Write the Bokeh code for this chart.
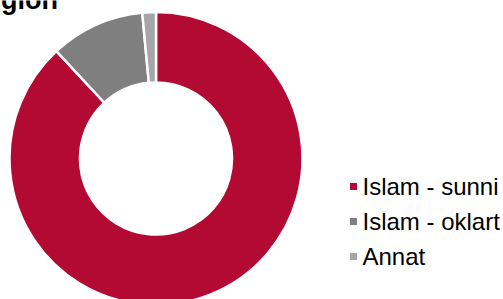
import numpy as np
from bokeh.plotting import figure
from bokeh.models import Range1d, ColumnDataSource
from bokeh.embed import file_html
from bokeh.resources import INLINE
from bokeh.core.properties import value

# ---- data ----
categories = ["Islam - sunni", "Islam - oklart", "Annat"]
shares = [88.1, 10.4, 1.5]
colors = ["#B20A33", "#7F7F7F", "#A6A6A6"]
title_text = "Religion"

W, H = 503, 299
p = figure(width=W, height=H, output_backend="svg", toolbar_location=None,
           x_range=Range1d(0, W), y_range=Range1d(0, H), min_border=0)
p.axis.visible = False
p.xgrid.visible = False
p.ygrid.visible = False
p.outline_line_color = None
p.background_fill_color = "white"
p.border_fill_color = "white"

total = float(sum(shares))
cum = np.concatenate([[0.0], np.cumsum(shares)]) / total * 2 * np.pi
src = ColumnDataSource(dict(
    start=np.pi / 2 - cum[:-1],
    end=np.pi / 2 - cum[1:],
    color=colors,
    cat=categories,
))
cx, cy = 155.5, H - 158
p.annular_wedge(x=cx, y=cy, inner_radius=76, outer_radius=146.5,
                start_angle="start", end_angle="end", direction="clock",
                fill_color="color", line_color="white", line_width=2.5,
                source=src)

# legend
ly = [H - 186, H - 221, H - 256]
leg = ColumnDataSource(dict(y=ly, color=colors, cat=categories))
p.scatter(x=353, y="y", marker="square", size=7, fill_color="color",
          line_color=None, source=leg)
p.text(x=362, y="y", text="cat", source=leg, text_font=value("Liberation Sans"),
       text_font_size="24px", text_baseline="middle", text_align="left",
       text_color="#000000")

# title (partially clipped at the top-left edge, as in the reference)
p.text(x=[-49], y=[H + 0.5], text=[title_text], text_font=value("Liberation Sans"),
       text_font_size="27px", text_font_style="bold", text_baseline="alphabetic",
       text_align="left", text_color="#000000")

open("out.html", "w").write(file_html(p, INLINE))
